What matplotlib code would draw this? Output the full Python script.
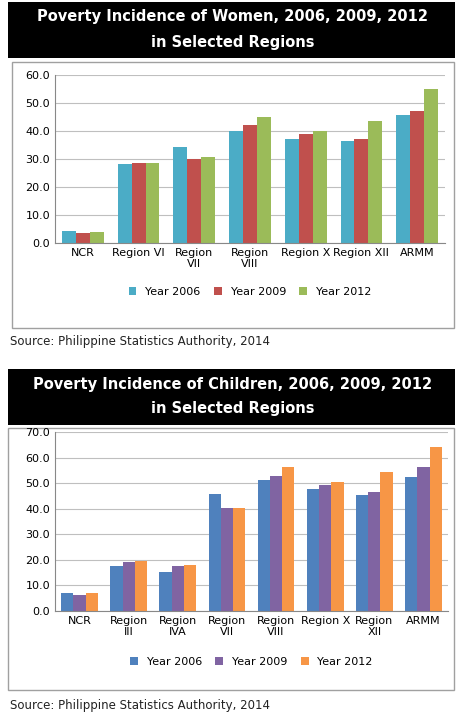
import matplotlib
matplotlib.use('Agg')
from matplotlib import pyplot as plt
from matplotlib.patches import Rectangle
import numpy as np

W, H = 465, 720

# data
regions_w = ['NCR', 'Region VI', 'Region\nVII', 'Region\nVIII', 'Region X', 'Region XII', 'ARMM']
women_2006 = [4.2, 28.3, 34.4, 40.1, 37.1, 36.6, 45.6]
women_2009 = [3.6, 28.7, 30.1, 42.0, 38.9, 37.3, 47.2]
women_2012 = [3.9, 28.6, 30.6, 45.0, 39.9, 43.4, 55.1]

regions_c = ['NCR', 'Region\nIII', 'Region\nIVA', 'Region\nVII', 'Region\nVIII', 'Region X', 'Region\nXII', 'ARMM']
child_2006 = [7.1, 17.6, 15.2, 45.8, 51.2, 47.6, 45.5, 52.5]
child_2009 = [6.1, 19.1, 17.6, 40.1, 52.6, 49.3, 46.6, 56.2]
child_2012 = [7.0, 19.6, 18.1, 40.1, 56.3, 50.3, 54.2, 64.1]

years = ['Year 2006', 'Year 2009', 'Year 2012']

fig = plt.figure(figsize=(W / 100, H / 100), dpi=100)


def box(x, y, w, h, **kw):
    # pixel coords, y from top; drawn behind the axes
    fig.patches.append(Rectangle((x / W, 1 - (y + h) / H), w / W, h / H,
                                 transform=fig.transFigure, zorder=-5, **kw))


def panel(title, ttop, frame, ax_px, cats, series, colors, ymax, src_y):
    box(8, ttop, 447, 56, facecolor='black', edgecolor='none')
    fig.text(0.5, 1 - (ttop + 15) / H, title[0], color='white', fontsize=10.5,
             fontweight='bold', ha='center', va='center')
    fig.text(0.5, 1 - (ttop + 40) / H, title[1], color='white', fontsize=10.5,
             fontweight='bold', ha='center', va='center')
    fx, fy, fw, fh = frame
    box(fx, fy, fw, fh, facecolor='white', edgecolor='#a0a0a0', linewidth=1)
    l, t, r, b = ax_px
    ax = fig.add_axes([l / W, 1 - b / H, (r - l) / W, (b - t) / H])
    ax.patch.set_alpha(0)
    x = np.arange(len(cats))
    w = 0.25
    for i, (vals, c) in enumerate(zip(series, colors)):
        ax.bar(x + (i - 1) * w, vals, w, color=c, label=years[i], zorder=2)
    ax.set_ylim(0, ymax)
    ax.set_yticks(np.arange(0, ymax + 1, 10))
    ax.set_yticklabels(['%.1f' % v for v in np.arange(0, ymax + 1, 10)], fontsize=8)
    ax.set_xlim(-0.5, len(cats) - 0.5)
    ax.set_xticks(x)
    ax.set_xticklabels(cats, fontsize=8)
    ax.tick_params(axis='x', length=0)
    ax.tick_params(axis='y', length=0)
    ax.grid(axis='y', color='#bfbfbf', linewidth=0.8, zorder=0)
    for s in ['top', 'right']:
        ax.spines[s].set_visible(False)
    ax.spines['left'].set_color('#888888')
    ax.spines['bottom'].set_color('#888888')
    ax.legend(loc='upper center', bbox_to_anchor=(0.5, -0.2), ncol=3, frameon=False,
              fontsize=8, handlelength=0.7, handleheight=0.7, columnspacing=1.2)
    fig.text(10 / W, 1 - src_y / H, 'Source: Philippine Statistics Authority, 2014',
             fontsize=8.5, va='center', color='#222222')


panel(['Poverty Incidence of Women, 2006, 2009, 2012', 'in Selected Regions'], 2,
      (12, 62, 442, 266), (55, 75, 445, 243),
      regions_w, [women_2006, women_2009, women_2012],
      ['#4BACC6', '#C0504D', '#9BBB59'], 60, 342)

panel(['Poverty Incidence of Children, 2006, 2009, 2012', 'in Selected Regions'], 369,
      (8, 428, 446, 262), (55, 432, 448, 611),
      regions_c, [child_2006, child_2009, child_2012],
      ['#4F81BD', '#8064A2', '#F79646'], 70, 706)

plt.savefig('out.png', dpi=100)
